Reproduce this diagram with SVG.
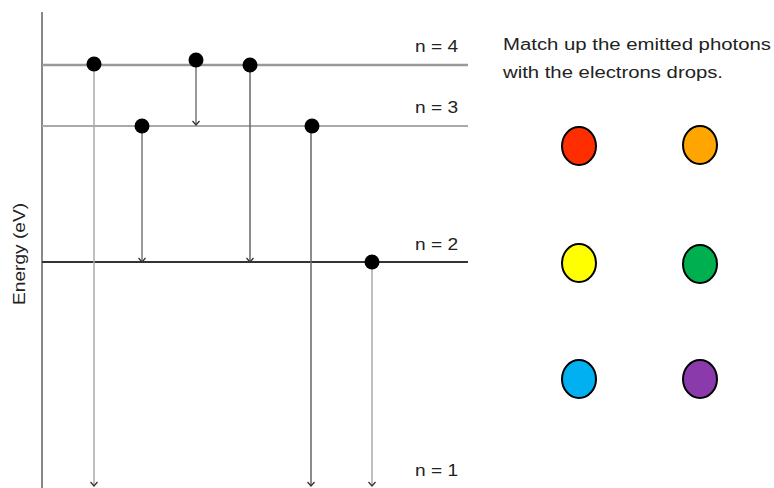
<svg xmlns="http://www.w3.org/2000/svg" width="774" height="488" viewBox="0 0 774 488">
  <style>
    text { font-family: "Liberation Sans", "DejaVu Sans", sans-serif; fill: #222; }
    .lvl { font-size: 16px; }
    .note { font-size: 16px; }
    .drop { stroke-width: 1.5; fill: none; }
    .electron { fill: #000; }
    .photon { stroke: #000; stroke-width: 2; }
  </style>
  <defs>
    <!-- small open arrowhead, drawn along +x so orient="auto" points it down the line -->
    <marker id="head" viewBox="0 0 8 8" refX="7" refY="4" markerWidth="8" markerHeight="8" markerUnits="userSpaceOnUse" orient="auto">
      <path d="M3,0.5 L7,4 L3,7.5" fill="none" stroke="#333" stroke-width="1.3"/>
    </marker>
  </defs>

  <rect width="774" height="488" fill="#fff"/>

  <!-- energy axis and levels -->
  <g id="axis">
    <line x1="42" y1="12" x2="42" y2="488" stroke="#888" stroke-width="2"/>
    <text transform="translate(25,254) rotate(-90)" text-anchor="middle" font-size="16" textLength="102" lengthAdjust="spacingAndGlyphs">Energy (eV)</text>
  </g>
  <g id="level-4">
    <line x1="42" y1="65" x2="468" y2="65" stroke="#999" stroke-width="2.5"/>
    <text class="lvl" x="415" y="52" textLength="43" lengthAdjust="spacingAndGlyphs">n = 4</text>
  </g>
  <g id="level-3">
    <line x1="42" y1="126" x2="468" y2="126" stroke="#aaa" stroke-width="2"/>
    <text class="lvl" x="415" y="113" textLength="43" lengthAdjust="spacingAndGlyphs">n = 3</text>
  </g>
  <g id="level-2">
    <line x1="42" y1="262" x2="468" y2="262" stroke="#333" stroke-width="2"/>
    <text class="lvl" x="415" y="250" textLength="43" lengthAdjust="spacingAndGlyphs">n = 2</text>
  </g>
  <g id="level-1">
    <text class="lvl" x="415" y="476" textLength="43" lengthAdjust="spacingAndGlyphs">n = 1</text>
  </g>

  <!-- electron drops -->
  <g id="connectors">
    <line class="drop" x1="94" y1="64" x2="94" y2="486" stroke="#aaa" marker-end="url(#head)"/>
    <line class="drop" x1="196" y1="60" x2="196" y2="125" stroke="#777" marker-end="url(#head)"/>
    <line class="drop" x1="250" y1="65" x2="250" y2="262" stroke="#666" marker-end="url(#head)"/>
    <line class="drop" x1="142" y1="126" x2="142" y2="262" stroke="#777" marker-end="url(#head)"/>
    <line class="drop" x1="311" y1="126" x2="311" y2="486" stroke="#666" marker-end="url(#head)"/>
    <line class="drop" x1="372" y1="262" x2="372" y2="486" stroke="#aaa" marker-end="url(#head)"/>
  </g>

  <!-- electrons -->
  <g id="electrons">
    <circle class="electron" cx="94" cy="64" r="7.5"/>
    <circle class="electron" cx="196" cy="60" r="7.5"/>
    <circle class="electron" cx="250" cy="65" r="7.5"/>
    <circle class="electron" cx="142" cy="126" r="7.5"/>
    <circle class="electron" cx="312" cy="126" r="7.5"/>
    <circle class="electron" cx="372" cy="262" r="7.5"/>
  </g>

  <!-- instructions -->
  <g id="instructions">
    <text class="note" x="503" y="50" textLength="268" lengthAdjust="spacingAndGlyphs">Match up the emitted photons</text>
    <text class="note" x="503" y="78" textLength="220" lengthAdjust="spacingAndGlyphs">with the electrons drops.</text>
  </g>

  <!-- photon colours -->
  <g id="photon-red"><ellipse class="photon" cx="579" cy="146" rx="17" ry="19" fill="#FF2E00"/></g>
  <g id="photon-orange"><ellipse class="photon" cx="700" cy="145" rx="17" ry="19" fill="#FFA500"/></g>
  <g id="photon-yellow"><ellipse class="photon" cx="579" cy="263" rx="17" ry="19" fill="#FFFF00"/></g>
  <g id="photon-green"><ellipse class="photon" cx="700" cy="264" rx="17" ry="19" fill="#00B050"/></g>
  <g id="photon-blue"><ellipse class="photon" cx="579" cy="379" rx="17" ry="19" fill="#00B0F0"/></g>
  <g id="photon-purple"><ellipse class="photon" cx="700" cy="379" rx="17" ry="19" fill="#8A3AAA"/></g>
</svg>
